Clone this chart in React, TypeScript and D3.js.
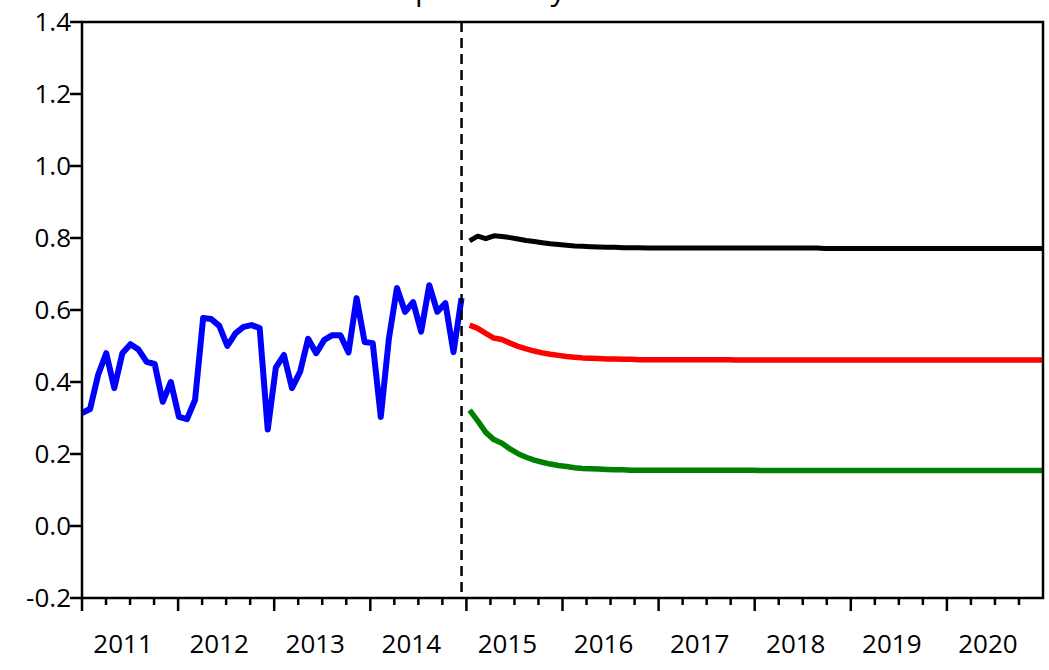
import React from "react";
import * as d3 from "d3";

const years = ["2011", "2012", "2013", "2014", "2015", "2016", "2017", "2018", "2019", "2020"];
const yTicks = [-0.2, 0.0, 0.2, 0.4, 0.6, 0.8, 1.0, 1.2, 1.4];

// Monthly observations 2011M01 - 2014M12
const actual = [
  0.314, 0.325, 0.42, 0.48, 0.383, 0.48, 0.505, 0.49, 0.456, 0.45, 0.345, 0.4,
  0.303, 0.297, 0.35, 0.578, 0.575, 0.556, 0.5, 0.535, 0.553, 0.558, 0.55, 0.268,
  0.44, 0.475, 0.383, 0.428, 0.52, 0.48, 0.517, 0.53, 0.53, 0.482, 0.633, 0.511,
  0.508, 0.303, 0.52, 0.661, 0.595, 0.622, 0.54, 0.669, 0.595, 0.619, 0.483, 0.633,
];

// Forecasts 2015M01 - 2020M12
const upper = [
  0.792, 0.805, 0.798, 0.806, 0.804, 0.801, 0.797, 0.793, 0.79, 0.787, 0.784, 0.782,
  0.78, 0.778, 0.777, 0.776, 0.775, 0.774, 0.774, 0.773, 0.773, 0.773, 0.772, 0.772,
  0.772, 0.772, 0.772, 0.772, 0.772, 0.772, 0.772, 0.772, 0.772, 0.772, 0.772, 0.772,
  0.772, 0.772, 0.772, 0.772, 0.772, 0.772, 0.772, 0.772, 0.771, 0.771, 0.771, 0.771,
  0.771, 0.771, 0.771, 0.771, 0.771, 0.771, 0.771, 0.771, 0.771, 0.771, 0.771, 0.771,
  0.771, 0.771, 0.771, 0.771, 0.771, 0.771, 0.771, 0.771, 0.771, 0.771, 0.771, 0.771,
];
const mean = [
  0.558, 0.549, 0.535, 0.522, 0.518, 0.508, 0.499, 0.492, 0.486, 0.481, 0.477, 0.474,
  0.471, 0.469, 0.467, 0.466, 0.465, 0.464, 0.464, 0.463, 0.463, 0.462, 0.462, 0.462,
  0.462, 0.462, 0.462, 0.462, 0.462, 0.462, 0.462, 0.462, 0.462, 0.461, 0.461, 0.461,
  0.461, 0.461, 0.461, 0.461, 0.461, 0.461, 0.461, 0.461, 0.461, 0.461, 0.461, 0.461,
  0.461, 0.461, 0.461, 0.461, 0.461, 0.461, 0.461, 0.461, 0.461, 0.461, 0.461, 0.461,
  0.461, 0.461, 0.461, 0.461, 0.461, 0.461, 0.461, 0.461, 0.461, 0.461, 0.461, 0.461,
];
const lower = [
  0.322, 0.292, 0.26, 0.24, 0.23, 0.214, 0.201, 0.191, 0.183, 0.177, 0.172, 0.168,
  0.165, 0.162, 0.16, 0.159, 0.158, 0.157, 0.156, 0.156, 0.155, 0.155, 0.155, 0.155,
  0.155, 0.155, 0.155, 0.155, 0.155, 0.155, 0.155, 0.155, 0.155, 0.155, 0.155, 0.155,
  0.154, 0.154, 0.154, 0.154, 0.154, 0.154, 0.154, 0.154, 0.154, 0.154, 0.154, 0.154,
  0.154, 0.154, 0.154, 0.154, 0.154, 0.154, 0.154, 0.154, 0.154, 0.154, 0.154, 0.154,
  0.154, 0.154, 0.154, 0.154, 0.154, 0.154, 0.154, 0.154, 0.154, 0.154, 0.154, 0.154,
];

const W = 1049;
const H = 670;
const M = { left: 82, right: 1043, top: 22, bottom: 598 };
const FONT = "'Open Sans', 'Noto Sans', sans-serif";

export default function App() {
  const nObs = actual.length + upper.length;
  const x = d3.scaleLinear().domain([0, nObs - 1]).range([M.left, M.right]);
  const q = d3.scaleLinear().domain([0, years.length * 4]).range([M.left, M.right]);
  const y = d3.scaleLinear().domain([-0.2, 1.4]).range([M.bottom, M.top]);

  const line = d3
    .line<number>()
    .x((_, i) => x(i))
    .y((d) => y(d));
  const fline = d3
    .line<number>()
    .x((_, i) => x(i + actual.length))
    .y((d) => y(d));

  const quarters = d3.range(1, years.length * 4);
  const splitX = x(actual.length - 1);
  const fmt = (t: number) => t.toFixed(1);

  return (
    <svg
      width={W}
      height={H}
      style={{ position: "absolute", left: 0, top: 0, background: "#fff" }}
      fontFamily={FONT}
    >
      <rect x={0} y={0} width={W} height={H} fill="#fff" />
      <text x={415} y={0} fontSize={30} fill="#000">
        probability
      </text>

      {/* series */}
      <path d={line(actual) || ""} fill="none" stroke="#0000ff" strokeWidth={6} strokeLinejoin="round" />
      <path d={fline(upper) || ""} fill="none" stroke="#000000" strokeWidth={5} strokeLinejoin="round" />
      <path d={fline(mean) || ""} fill="none" stroke="#ff0000" strokeWidth={5.5} strokeLinejoin="round" />
      <path d={fline(lower) || ""} fill="none" stroke="#008000" strokeWidth={5.5} strokeLinejoin="round" />

      {/* forecast split */}
      <line x1={splitX} x2={splitX} y1={M.top} y2={M.bottom} stroke="#000" strokeWidth={2.5} strokeDasharray="10,6" />

      {/* frame */}
      <rect
        x={M.left}
        y={M.top}
        width={M.right - M.left}
        height={M.bottom - M.top}
        fill="none"
        stroke="#000"
        strokeWidth={2.5}
      />

      {/* y axis */}
      {yTicks.map((t) => (
        <g key={t}>
          <line x1={M.left - 12} x2={M.left} y1={y(t)} y2={y(t)} stroke="#000" strokeWidth={2.5} />
          <text x={M.left - 10} y={y(t)} dx={-1} dy="0.36em" textAnchor="end" fontSize={26} fill="#000">
            {fmt(t)}
          </text>
        </g>
      ))}

      {/* x axis ticks */}
      <line x1={M.left} x2={M.left} y1={M.bottom} y2={M.bottom + 13} stroke="#000" strokeWidth={2.5} />
      {quarters.map((k) => (
        <line
          key={k}
          x1={q(k)}
          x2={q(k)}
          y1={M.bottom}
          y2={M.bottom + (k % 4 === 0 ? 13 : 7)}
          stroke="#000"
          strokeWidth={2.5}
        />
      ))}
      {years.map((yr, i) => (
        <text key={yr} x={q(i * 4 + 2)} dx={-7} y={653} textAnchor="middle" fontSize={26} fill="#000">
          {yr}
        </text>
      ))}
    </svg>
  );
}
